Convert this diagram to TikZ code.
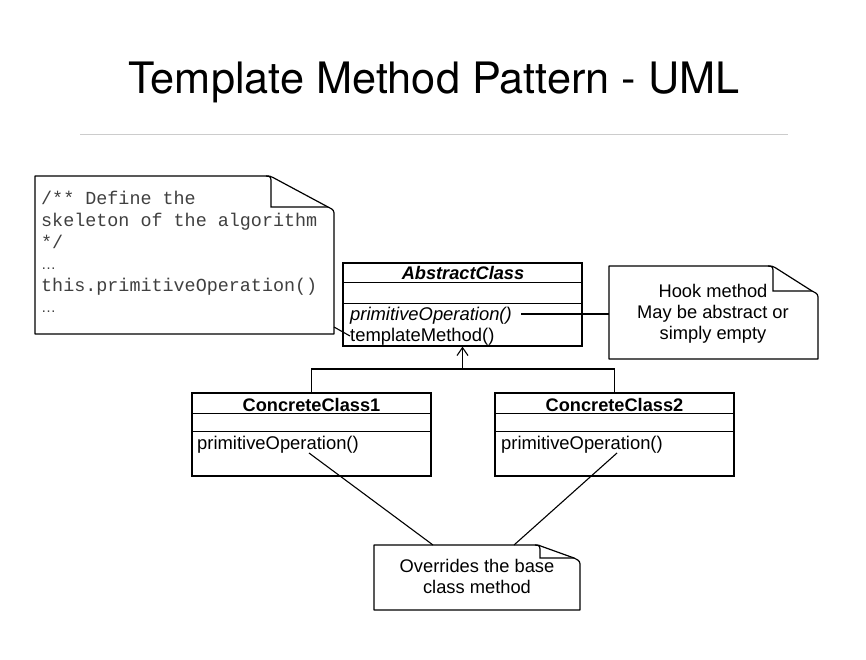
\documentclass[tikz,border=0pt]{standalone}
\usepackage{fontspec}
\setmainfont{Liberation Sans}
\newfontfamily\codefont{Liberation Mono}
\newfontfamily\titlefont{TeX Gyre Heros}
\usetikzlibrary{arrows.meta,calc}
\newcommand\dognote[6]{%
  \draw[ln, line join=round] (#1,#2) -- ({#3-#5-3},#2) .. controls ({#3-#5+2},#2) .. ({#3-#5+5},{#2+1.5})
     -- ({#3-6},{#2+#6}) .. controls ({#3},{#2+#6+3}) .. ({#3},{#2+#6+9}) -- (#3,#4) -- (#1,#4) -- cycle;
  \draw[ln] ({#3-#5-2},#2) .. controls ({#3-#5+3},{#2+0.5}) .. ({#3-#5+3},{#2+8}) -- ({#3-#5+3},{#2+#6}) -- ({#3-6},{#2+#6});
}
\begin{document}
\begin{tikzpicture}[x=1pt,y=-1pt,
  ln/.style={draw=black, line width=1.2pt},
  conn/.style={draw=black, line width=1.1pt},
  classbox/.style={draw=black, line width=1.2pt, rectangle, inner sep=0pt, minimum width=239pt, minimum height=83pt},
  umltxt/.style={font=\fontsize{18.4}{21}\selectfont, inner sep=0pt},
  codetxt/.style={font=\codefont\fontsize{18.4}{21}\selectfont, text=black!75, inner sep=0pt, anchor=base west},
  notetxt/.style={font=\fontsize{18.3}{21}\selectfont, inner sep=0pt, anchor=base},
]
\fill[white] (0,0) rectangle (866,659);
\useasboundingbox (0,0) rectangle (866,659);

% title
\node[font=\titlefont\fontsize{43.3}{44}\selectfont, inner sep=0pt, anchor=base] (title) at (434,93) {Template Method Pattern - UML};
\draw[black!20, line width=1pt] (80,134) -- (788,134);

% code note
\dognote{35}{176}{334}{334}{66}{31}
\node[codetxt] (c1) at (41,204) {/** Define the};
\node[codetxt] (c2) at (41,226) {skeleton of the algorithm};
\node[codetxt] (c3) at (41,248) {*/};
\node[codetxt, font=\fontsize{15}{15}\selectfont] (c4) at (41,269) {…};
\node[codetxt] (c5) at (41,291) {this.primitiveOperation()};
\node[codetxt, font=\fontsize{15}{15}\selectfont] (c6) at (41,312) {…};
\coordinate (codeA) at (334,327);

% abstract class
\node[classbox] (abs) at (462.5,304.5) {};
\draw[ln] ($(abs.north west)+(0,20)$) -- ($(abs.north east)+(0,20)$);
\draw[ln] ($(abs.north west)+(0,41)$) -- ($(abs.north east)+(0,41)$);
\node[umltxt, anchor=base, font=\fontsize{18.2}{21}\selectfont\bfseries\itshape] (absname) at (463,279) {AbstractClass};
\node[umltxt, anchor=base west, font=\fontsize{18.4}{21}\selectfont\itshape] (absop) at (350,320) {primitiveOperation()};
\node[umltxt, anchor=base west] (abstm) at (350,341) {templateMethod()};
\coordinate (tmA) at (350,336);

% hook note
\dognote{609}{266}{818}{359}{48}{25}
\node[notetxt] (h1) at (713,297) {Hook method};
\node[notetxt] (h2) at (713,318) {May be abstract or};
\node[notetxt] (h3) at (713,339) {simply empty};
\coordinate (hookA) at (609,314);
\coordinate (absopA) at (521,314);

% concrete classes
\node[classbox] (cc1) at (311.5,434.5) {};
\draw[ln] ($(cc1.north west)+(0,21)$) -- ($(cc1.north east)+(0,21)$);
\draw[ln] ($(cc1.north west)+(0,39)$) -- ($(cc1.north east)+(0,39)$);
\node[umltxt, anchor=base, font=\fontsize{18.2}{21}\selectfont\bfseries] (cc1name) at (311.5,411) {ConcreteClass1};
\node[umltxt, anchor=base west] (cc1op) at (197,449) {primitiveOperation()};

\node[classbox] (cc2) at (614.5,434.5) {};
\draw[ln] ($(cc2.north west)+(0,21)$) -- ($(cc2.north east)+(0,21)$);
\draw[ln] ($(cc2.north west)+(0,39)$) -- ($(cc2.north east)+(0,39)$);
\node[umltxt, anchor=base, font=\fontsize{18.2}{21}\selectfont\bfseries] (cc2name) at (614.5,411) {ConcreteClass2};
\node[umltxt, anchor=base west] (cc2op) at (501,449) {primitiveOperation()};

% overrides note
\dognote{374}{545}{580}{610}{43}{13}
\node[notetxt] (o1) at (477,572) {Overrides the base};
\node[notetxt] (o2) at (477,593) {class method};
\coordinate (ovA) at (433,545);
\coordinate (ovB) at (514,545);
\coordinate (cc1A) at (309,453);
\coordinate (cc2A) at (617,453);

% inheritance
\coordinate (j) at (462.5,369);
\draw[conn] (cc1.north) |- (j) -| (cc2.north);
\draw[conn, -{Straight Barb[length=8pt,width=11pt]}] (j) -- (abs.south);

% connectors
\draw[conn] (codeA) -- (tmA);
\draw[conn] (absopA) -- (hookA);
\draw[conn] (cc1A) -- (ovA);
\draw[conn] (cc2A) -- (ovB);
\end{tikzpicture}
\end{document}
